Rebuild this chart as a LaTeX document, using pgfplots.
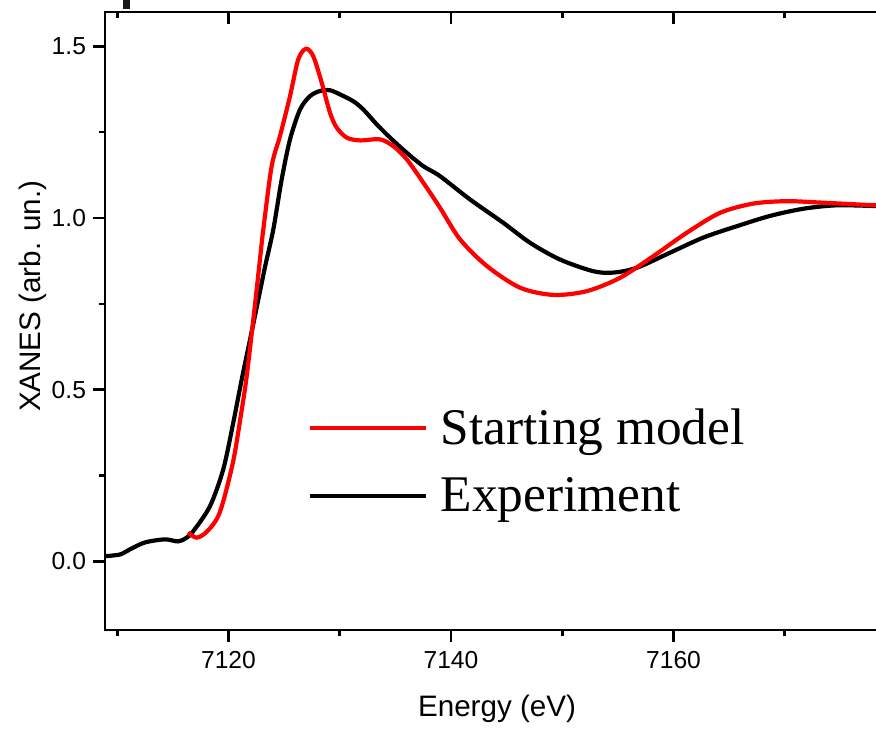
\documentclass[border=0pt]{standalone}
\usepackage{fontspec}
\setmainfont{Liberation Sans}
\newfontfamily\legfont{Liberation Serif}
\usepackage{pgfplots}
\usepackage{pgfplotstable}
\pgfplotsset{compat=1.18}

\pgfplotstableread{
E y
7108.90 0.015
7110.25 0.020
7111.15 0.035
7112.49 0.055
7114.29 0.064
7115.46 0.058
7116.20 0.068
7116.84 0.088
7118.34 0.161
7119.53 0.268
7120.43 0.404
7121.19 0.530
7121.90 0.640
7122.60 0.750
7123.30 0.860
7124.03 0.967
7124.78 1.112
7125.53 1.229
7126.43 1.316
7127.33 1.355
7128.23 1.370
7129.12 1.372
7130.02 1.360
7131.22 1.340
7132.12 1.316
7133.32 1.273
7134.52 1.234
7136.02 1.190
7137.51 1.151
7139.01 1.122
7141.71 1.054
7144.70 0.986
7147.10 0.928
7149.80 0.879
7152.79 0.845
7154.59 0.841
7156.69 0.855
7159.69 0.899
7162.68 0.943
7165.68 0.976
7168.67 1.006
7171.67 1.027
7174.67 1.037
7178.14 1.035
7180.00 1.035
}\expdata

\pgfplotstableread{
E y
7116.36 0.084
7117.14 0.069
7118.10 0.088
7119.21 0.142
7120.40 0.288
7121.15 0.433
7121.60 0.530
7122.11 0.670
7122.56 0.800
7122.83 0.880
7123.13 0.967
7123.88 1.151
7124.63 1.239
7125.53 1.355
7126.27 1.462
7126.97 1.493
7127.62 1.471
7128.38 1.394
7129.12 1.307
7129.73 1.263
7130.63 1.234
7131.82 1.226
7133.62 1.229
7134.82 1.209
7136.02 1.171
7137.51 1.103
7139.01 1.030
7140.81 0.938
7143.23 0.860
7146.21 0.797
7149.21 0.776
7152.21 0.787
7155.20 0.826
7158.19 0.889
7161.19 0.957
7164.18 1.015
7167.18 1.042
7170.17 1.049
7173.17 1.045
7178.14 1.037
7180.00 1.036
}\modeldata

\pgfplotsset{
  xanes/.style={
    scale only axis, width=395.5pt, height=309pt,
    xmin=7108.9, xmax=7180, ymin=-0.2, ymax=1.6,
    axis line style={line width=1.3pt},
    xtick={7120,7140,7160}, minor xtick={7110,7130,7150,7170},
    major tick length=6pt, minor tick length=3pt,
    every tick/.append style={black, line width=1.3pt},
    every minor tick/.append style={black, line width=1.3pt},
  }
}

\begin{document}
\begin{tikzpicture}
\begin{axis}[
  xanes,
  ytick={0,0.5,1,1.5}, minor ytick={0.25,0.75,1.25},
  xtick pos=bottom, ytick pos=left,
  tick align=outside,
  ticklabel style={font=\fontsize{12.3}{15}\selectfont},
  xticklabel style={yshift=-1pt},
  /pgf/number format/assume math mode=true,
  xticklabel style={/pgf/number format/1000 sep={}},
  yticklabel style={/pgf/number format/fixed, /pgf/number format/fixed zerofill, /pgf/number format/precision=1},
  xlabel={Energy (eV)}, ylabel={XANES (arb. un.)},
  every axis x label/.style={at={(rel axis cs:0.4956,0)}, anchor=center, yshift=-39.5pt,
    font=\fontsize{14.8}{17}\selectfont},
  every axis y label/.style={at={(rel axis cs:0,0.54)}, anchor=center, rotate=90, yshift=36pt,
    font=\fontsize{14.8}{17}\selectfont},
  legend image code/.code={\draw[#1] (0pt,0pt) -- (58pt,0pt); \path (62.5pt,0pt);},
  legend style={draw=none, fill=none, at={(rel axis cs:0.2555,0.273)}, anchor=west,
    font=\legfont\fontsize{25.7}{30}\selectfont, row sep=11pt, inner sep=0pt,
    nodes={inner sep=2pt}},
  legend cell align=left,
  reverse legend,
]
\coordinate (bl) at (rel axis cs:0,0);
\coordinate (tl) at (rel axis cs:0,1);
\addplot[black, line width=2.1pt, smooth, tension=0.5] table[x=E, y=y] {\expdata};
\addlegendentry{Experiment}
\addplot[red, line width=2.1pt, smooth, tension=0.5] table[x=E, y=y] {\modeldata};
\addlegendentry{Starting model}
\end{axis}
\begin{axis}[
  xanes,
  axis x line*=top, axis y line=none,
  tick align=inside,
  xticklabel=\empty,
]
\end{axis}
\fill[black!90] ([xshift=9.2pt,yshift=1.4pt]tl) rectangle ([xshift=12.5pt,yshift=7pt]tl);
\pgfresetboundingbox
\path[use as bounding box] ([xshift=-52.5pt,yshift=-49pt]bl) rectangle ([xshift=385.5pt,yshift=315pt]bl);
\end{tikzpicture}
\end{document}
